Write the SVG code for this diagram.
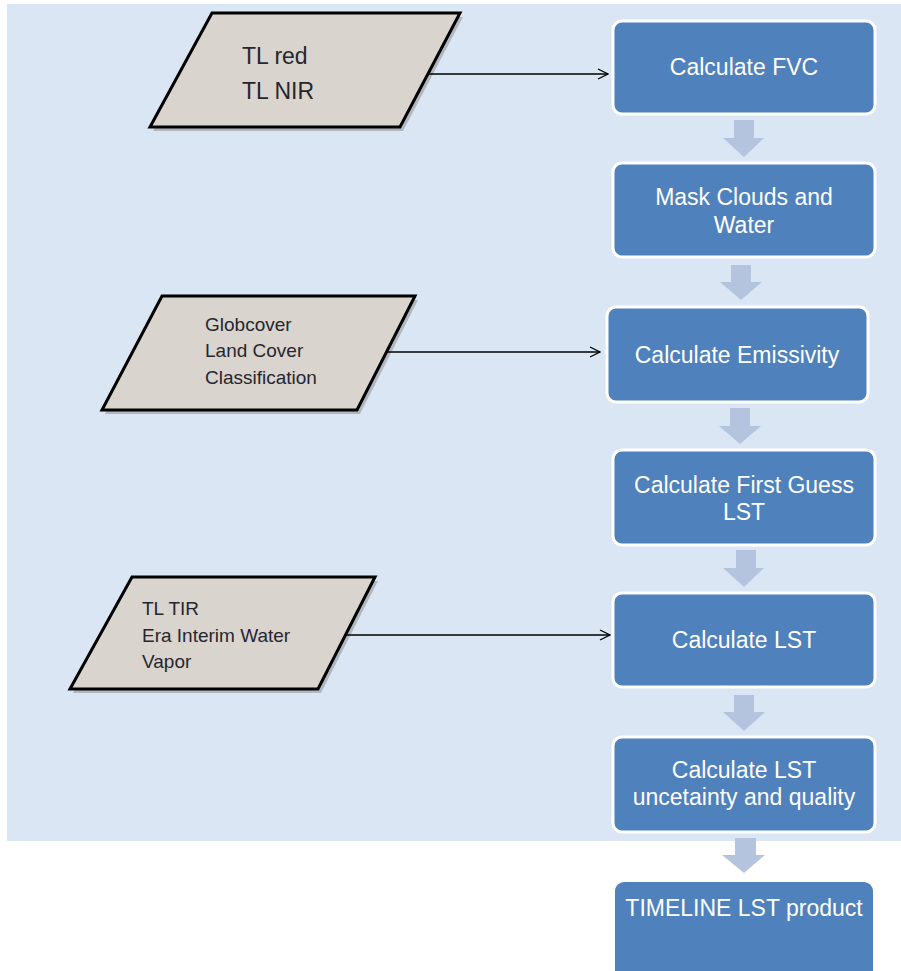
<svg xmlns="http://www.w3.org/2000/svg" width="901" height="971" viewBox="0 0 901 971">
<style>
.box{fill:#4f81bd;stroke:#ffffff;stroke-width:3}
.bt{font-family:"Liberation Sans",Arial,sans-serif;font-size:23px;fill:#ffffff;text-anchor:middle}
.para{fill:#d9d4ce;stroke:#000000;stroke-width:3;stroke-linejoin:miter}
.shadow{fill:#7f7f7f;opacity:0.45}
.pt{font-family:"Liberation Sans",Arial,sans-serif;fill:#26262e}
.blk{fill:#b4c4df}
.conn{stroke:#000000;stroke-width:1.3;fill:none}
</style>
<defs>
<marker id="open" markerWidth="12" markerHeight="12" refX="11" refY="6" orient="auto" markerUnits="userSpaceOnUse">
<path d="M1,1 L11,6 L1,11" fill="none" stroke="#000" stroke-width="1.3"/>
</marker>
</defs>
<rect x="7" y="4" width="894" height="837" fill="#dbe6f4"/>

<g id="in1">
<polygon class="shadow" points="215,17 463,17 403,131 153,131"/>
<polygon class="para" points="212,13 460,13 400,127 150,127"/>
<text class="pt" font-size="23" x="242" y="64">TL red</text>
<text class="pt" font-size="23" x="242" y="99">TL NIR</text>
</g>
<g id="in2">
<polygon class="shadow" points="165,300 418,300 360,414 105,414"/>
<polygon class="para" points="162,296 415,296 357,410 102,410"/>
<text class="pt" font-size="19" x="205" y="331">Globcover</text>
<text class="pt" font-size="19" x="205" y="357">Land Cover</text>
<text class="pt" font-size="19" x="205" y="384">Classification</text>
</g>
<g id="in3">
<polygon class="shadow" points="135,581 378,581 321,693 73,693"/>
<polygon class="para" points="132,577 375,577 318,689 70,689"/>
<text class="pt" font-size="19" x="142" y="615">TL TIR</text>
<text class="pt" font-size="19" x="142" y="642">Era Interim Water</text>
<text class="pt" font-size="19" x="142" y="668">Vapor</text>
</g>

<g id="connectors">
<line class="conn" x1="428" y1="74" x2="608" y2="74" marker-end="url(#open)"/>
<line class="conn" x1="386" y1="352" x2="600" y2="352" marker-end="url(#open)"/>
<line class="conn" x1="345" y1="635" x2="610" y2="635" marker-end="url(#open)"/>
<polygon class="blk" points="734,120 754,120 754,138 764,138 744,157 723,138 734,138"/>
<polygon class="blk" points="731,265 751,265 751,282 762,282 741,300 720,282 731,282"/>
<polygon class="blk" points="730,408 750,408 750,426 761,426 740,444 719,426 730,426"/>
<polygon class="blk" points="736,550 756,550 756,568 764,568 744,587 723,568 736,568"/>
<polygon class="blk" points="734,695 754,695 754,712 765,712 744,731 723,712 734,712"/>
<polygon class="blk" points="735,838 756,838 756,855 765,855 744,873 722,855 735,855"/>
</g>

<g id="fvc">
<rect class="box" x="613" y="21" width="262" height="93" rx="9"/>
<text class="bt" x="744" y="75">Calculate FVC</text>
</g>
<g id="mask">
<rect class="box" x="613" y="163" width="262" height="94" rx="9"/>
<text class="bt" x="744" y="205">Mask Clouds and</text>
<text class="bt" x="744" y="233">Water</text>
</g>
<g id="emis">
<rect class="box" x="607" y="307" width="261" height="95" rx="9"/>
<text class="bt" x="737" y="363">Calculate Emissivity</text>
</g>
<g id="fg">
<rect class="box" x="613" y="450" width="262" height="95" rx="9"/>
<text class="bt" x="744" y="493">Calculate First Guess</text>
<text class="bt" x="744" y="520">LST</text>
</g>
<g id="lst">
<rect class="box" x="613" y="593" width="262" height="94" rx="9"/>
<text class="bt" x="744" y="648">Calculate LST</text>
</g>
<g id="unc">
<rect class="box" x="613" y="737" width="262" height="95" rx="9"/>
<text class="bt" x="744" y="778">Calculate LST</text>
<text class="bt" x="744" y="805">uncetainty and quality</text>
</g>
<g id="product">
<rect x="615" y="882" width="258" height="110" rx="9" fill="#4f81bd"/>
<text class="bt" x="744" y="916">TIMELINE LST product</text>
</g>
</svg>
